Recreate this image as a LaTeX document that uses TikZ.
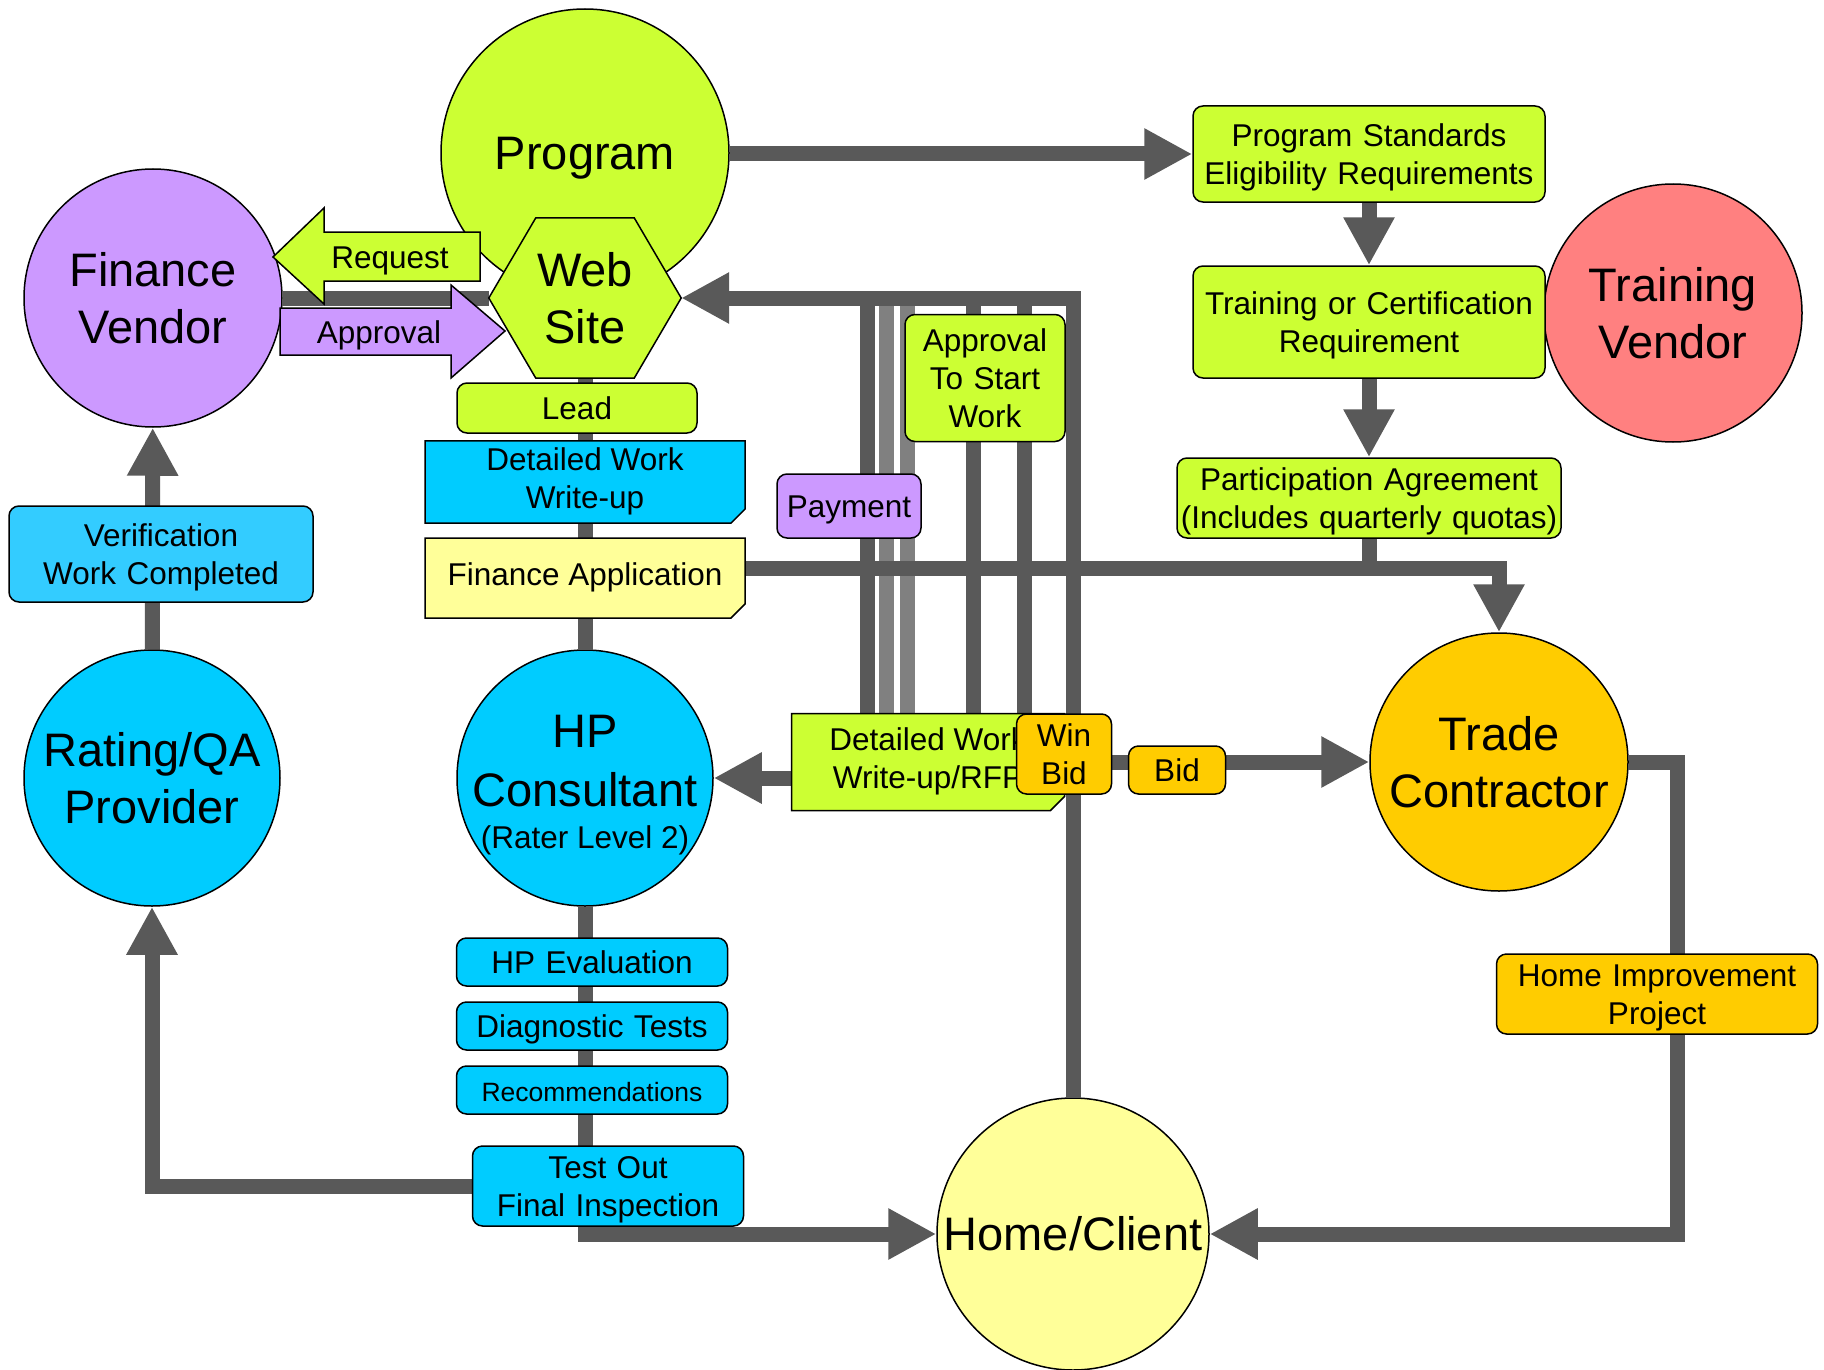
\documentclass[tikz,border=0pt]{standalone}
\usepackage{fontspec}
\setmainfont{Liberation Sans}
\usetikzlibrary{arrows.meta, shapes.misc}
\setlength{\parindent}{0pt}

\definecolor{lime}{HTML}{CCFF33}
\definecolor{lilac}{HTML}{CC99FF}
\definecolor{sky}{HTML}{00CCFF}
\definecolor{skylt}{HTML}{33CCFF}
\definecolor{cream}{HTML}{FFFF99}
\definecolor{amber}{HTML}{FFCC00}
\definecolor{salmon}{HTML}{FF8080}
\definecolor{flowdark}{HTML}{595959}
\definecolor{flowlight}{HTML}{808080}

\newcommand{\bigfont}{\fontsize{47pt}{57pt}\selectfont}
\newcommand{\boxfont}{\fontsize{31.5pt}{38pt}\selectfont}
\newcommand{\smallfont}{\fontsize{26.5pt}{32pt}\selectfont}
\newcommand{\tagstrut}{\rule[-7.4pt]{0pt}{37.4pt}}
\newcommand{\actorstrut}{\rule[-11.3pt]{0pt}{56.3pt}}

\pgfdeclarelayer{bg}
\pgfsetlayers{bg,main}

\tikzset{
  actortext/.style={font=\bigfont, align=center, execute at begin node=\actorstrut, execute at end node=\actorstrut},
  tagtext/.style={font=\boxfont, align=center, execute at begin node=\tagstrut, execute at end node=\tagstrut},
  actor/.style={circle, draw, line width=1.5pt, inner sep=0pt, actortext, text width=226pt},
  tag/.style 2 args={rectangle, rounded corners=10pt, draw, line width=1.5pt, inner sep=0pt, tagtext,
    minimum width=#1pt, text width=#1pt, minimum height=#2pt},
  memo/.style={chamfered rectangle, chamfered rectangle corners=south east, chamfered rectangle xsep=7pt, chamfered rectangle ysep=7pt, draw, line width=1.5pt, inner sep=0pt, tagtext},
  flow/.style={line width=15pt, draw=flowdark},
}

\begin{document}
\begin{tikzpicture}[x=1pt, y=-1pt, >={Triangle[length=48pt,width=48pt]}]
\useasboundingbox (0,0) rectangle (1824,1370);

% the actors
\node[actor, fill=lime, minimum size=288pt] (program) at (585,153) {Program};
\node[actor, fill=lilac, minimum size=258pt] (finvendor) at (153,298) {Finance\\Vendor};
\node[actor, fill=sky, minimum size=256pt] (rating) at (152,778) {Rating/QA\\Provider};
\node[actor, fill=sky, minimum size=256pt] (hp) at (585,778) {};
\node[font=\bigfont, align=center] (hptext) at (585,785) {HP\\[2.5pt]Consultant\\[-15pt]{\boxfont (Rater Level 2)}};
\node[actor, fill=cream, minimum size=272pt, text width=264pt] (home) at (1073,1234) {Home/Client};
\node[actor, fill=amber, minimum size=258pt] (trade) at (1499,762) {Trade\\Contractor};
\node[actor, fill=salmon, minimum size=258pt] (trainvendor) at (1673,313) {Training\\Vendor};

% request / approval block arrows
\draw[line width=1.5pt, fill=lime] (273,257) -- (324,208) -- (324,232) -- (480,232) -- (480,281) -- (324,281) -- (324,304) -- cycle;
\node[tagtext] (reqtext) at (390,257) {Request};
\draw[line width=1.5pt, fill=lilac] (280,308) -- (451,308) -- (451,285) -- (505,331) -- (451,378) -- (451,355) -- (280,355) -- cycle;
\node[tagtext] (apprtext) at (379,332) {Approval};

% web site hexagon
\node[minimum width=192pt, minimum height=160pt, inner sep=0pt] (website) at (585,298) {};
\draw[line width=1.5pt, fill=lime] (website.west) -- ([xshift=47pt]website.north west) -- ([xshift=-47pt]website.north east)
  -- (website.east) -- ([xshift=-47pt]website.south east) -- ([xshift=47pt]website.south west) -- cycle;
\node[actortext, text width=226pt] (webtext) at (website) {Web\\Site};

% boxes
\node[tag={240}{50}, fill=lime] (lead) at (577,408) {Lead};
\node[memo, fill=sky, minimum width=320pt, minimum height=80pt] (detwork) at (585,482) {Detailed Work\\Write-up};
\node[memo, fill=cream, minimum width=320pt, minimum height=80pt, text depth=14.4pt] (finapp) at (585,578) {Finance Application};
\node[tag={304}{96}, fill=skylt] (verify) at (161,554) {Verification\\Work Completed};
\node[tag={271}{48}, fill=sky] (hpeval) at (592,962) {HP Evaluation};
\node[tag={271}{48}, fill=sky] (diagtest) at (592,1026) {Diagnostic Tests};
\node[tag={271}{48}, fill=sky, font=\smallfont] (recomm) at (592,1090) {Recommendations};
\node[tag={271}{80}, fill=sky] (testout) at (608,1186) {Test Out\\Final Inspection};
\node[tag={352}{96}, fill=lime] (standards) at (1369,154) {Program Standards\\Eligibility Requirements};
\node[tag={352}{112}, fill=lime] (trainreq) at (1369,322) {Training or Certification\\Requirement};
\node[tag={384}{80}, fill=lime] (partic) at (1369,498) {Participation Agreement\\(Includes quarterly quotas)};
\node[tag={160}{127}, fill=lime] (startwork) at (985,378) {Approval\\To Start\\Work};
\node[tag={144}{64}, fill=lilac] (payment) at (849,506) {Payment};
\node[memo, fill=lime, minimum width=273pt, minimum height=97pt] (rfp) at (928,762) {Detailed Work\\Write-up/RFP};
\node[tag={95}{80}, fill=amber] (winbid) at (1064,754) {Win\\Bid};
\node[tag={97}{48}, fill=amber] (bid) at (1177,770) {Bid};
\node[tag={321}{80}, fill=amber] (homeimp) at (1657,994) {Home Improvement\\Project};

\coordinate (fabend) at (1499,568);
\coordinate (tcturn) at (1677,762);

% connectors
\begin{pgfonlayer}{bg}
\foreach \x/\c in {867/flowdark, 886/flowlight, 907/flowlight, 973/flowdark, 1024/flowdark}
  \draw[line width=15pt, draw=\c] (\x,0 |- website) -- (\x,0 |- rfp.north);
\draw[flow, ->] (home) |- (website);
\draw[flow] (finvendor) -- (website);
\draw[flow] (website) -- (hp);
\draw[flow, ->] (hp) |- (home);
\draw[flow, ->] (testout) -| (rating);
\draw[flow, ->] (rating) -- (finvendor);
\draw[flow, ->] (rfp.west |- hp) -- (hp);
\draw[flow, ->] (winbid.east |- trade) -- (trade);
\draw[flow, ->] (program.east |- standards) -- (standards);
\draw[flow, ->] (standards) -- (trainreq);
\draw[flow, ->] (trainreq) -- (partic);
\draw[flow] (partic) -- (partic |- fabend);
\draw[flow, ->] (finapp.east |- fabend) -| (trade);
\draw[flow, ->] (trade) -- (tcturn) |- (home);
\end{pgfonlayer}

\end{tikzpicture}
\end{document}
